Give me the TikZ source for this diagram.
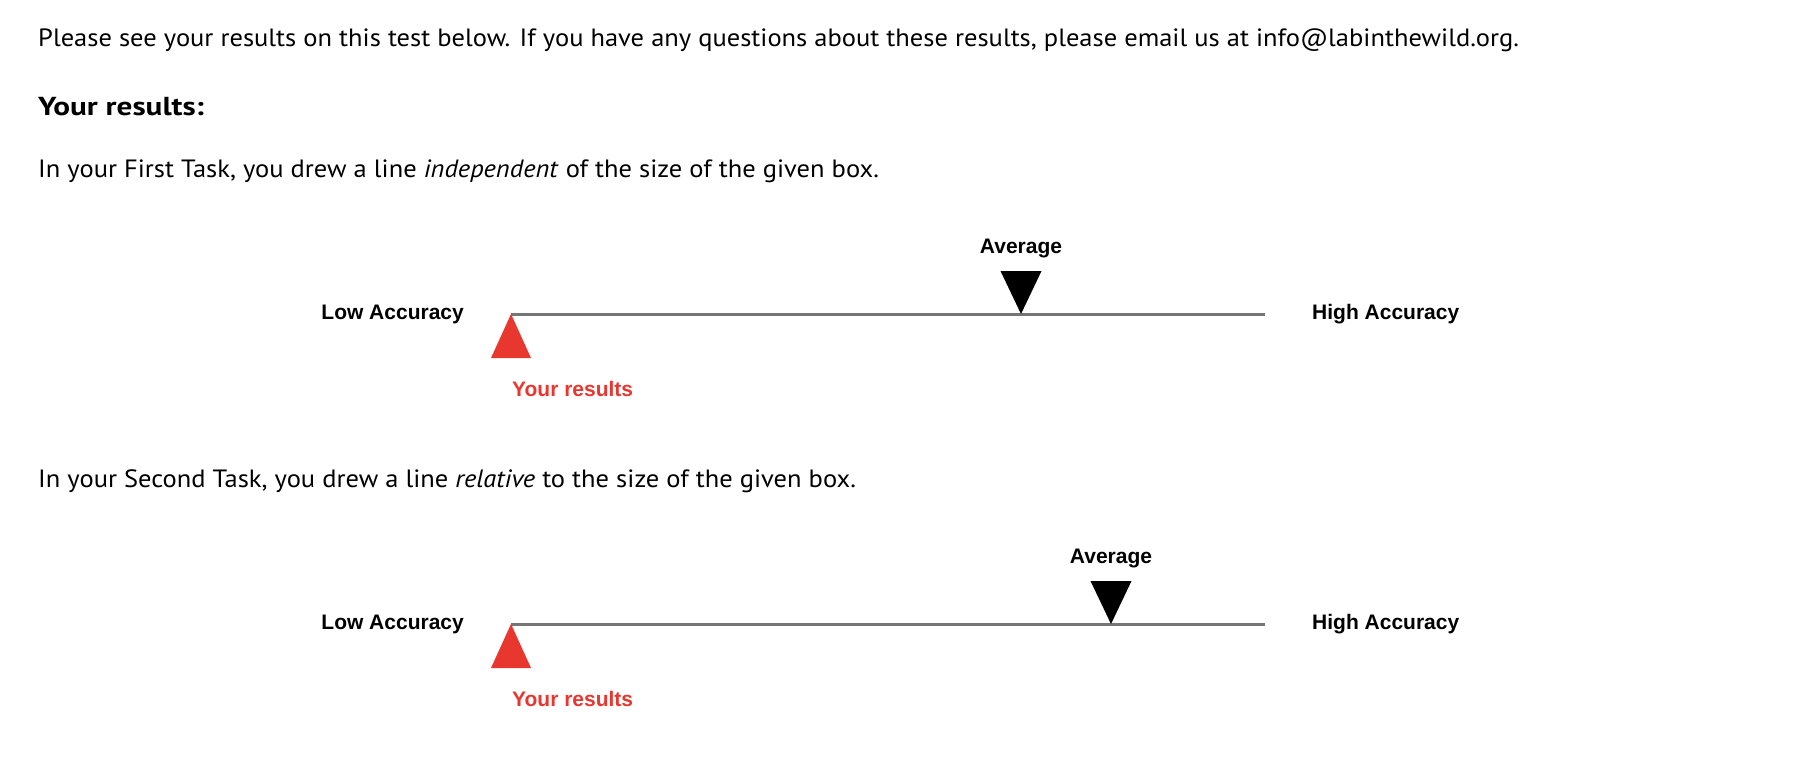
\documentclass[tikz,border=0pt]{standalone}
\usepackage{fontspec}
\setmainfont{PT Sans}[FakeStretch=1.06]
\newfontfamily\headfont{PT Sans}[FakeStretch=1.2]
\newfontfamily\labelfont{Liberation Sans}
\usetikzlibrary{positioning,calc}
\definecolor{res}{HTML}{E8372F}
\definecolor{bar}{HTML}{767676}
\tikzset{
  para/.style={anchor=base west, inner sep=0pt, font=\fontsize{25}{30}\selectfont},
  head/.style={para, font=\headfont\fontsize{26}{30}\selectfont\bfseries},
  tag/.style={inner sep=0pt, font=\labelfont\fontsize{21}{25}\selectfont\bfseries},
  scalebar/.style={line width=3pt, draw=bar},
  avgmark/.style={fill=black},
  youmark/.style={fill=res},
}
\newcommand{\accscales}[1]{%
  \foreach \n/\y/\avx in {#1} {%
    \coordinate (lo\n) at (511,\y);
    \coordinate (hi\n) at (1265,\y);
    \coordinate (av\n) at (\avx,\y);
    \coordinate (avtop\n) at ($(av\n)+(0,-43)$);
    \coordinate (ybase\n) at ($(lo\n)+(0,44)$);
    \draw[scalebar] (lo\n) -- (hi\n);
    \node[tag, left=47pt of lo\n] (low\n) {Low Accuracy};
    \node[tag, right=47pt of hi\n] (high\n) {High Accuracy};
    \fill[avgmark] (av\n) -- ++(-20.5,-43) -- ++(41,0) -- cycle;
    \node[tag, above=13pt of avtop\n] (avg\n) {Average};
    \fill[youmark] (lo\n) -- ++(-20,44) -- ++(40,0) -- cycle;
    \node[tag, text=res, below right=23pt and 1pt of ybase\n] (you\n) {Your results};
  }}

\begin{document}
\begin{tikzpicture}[x=1pt,y=-1pt]
  \useasboundingbox (0,0) rectangle (1798,766);
  \node[para] (intro) at (38,46) {Please see your results on this test below. If you have any questions about these results, please email us at info@labinthewild.org.};
  \node[head] (heading) at (38,115) {Your results:};
  \node[para] (task1) at (38,177) {In your First Task, you drew a line \textit{independent} of the size of the given box.};
  \node[para] (task2) at (38,487) {In your Second Task, you drew a line \textit{relative} to the size of the given box.};
  \accscales{1/314/1021, 2/624/1111}
\end{tikzpicture}
\end{document}
